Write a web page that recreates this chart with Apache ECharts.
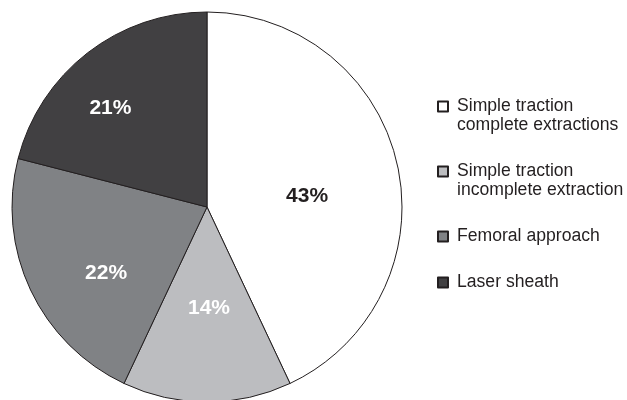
<!DOCTYPE html>
<html>
<head>
<meta charset="utf-8">
<script src="https://cdn.jsdelivr.net/npm/echarts@6/dist/echarts.min.js"></script>
<style>
  html, body { margin: 0; padding: 0; background: #fff; }
  #chart { width: 627px; height: 400px; }
</style>
</head>
<body>
<div id="chart"></div>
<script>
const categories = [
  'Simple traction\ncomplete extractions',
  'Simple traction\nincomplete extraction',
  'Femoral approach',
  'Laser sheath'
];
const percents = [43, 14, 22, 21];

const sliceColors = ['#ffffff', '#bcbdc0', '#808285', '#414042'];
const labelColors = ['#231f20', '#ffffff', '#ffffff', '#ffffff'];
// nudges so the labels sit where the original put them
const labelOffsets = [[2, 11], [2, 1], [-10, 23], [-35, -19]];
// legend text padding, used to space the rows like the original
const legendPads = [[0, 0, 0, 4], [0, 0, 0, 4], [19, 0, 19, 4], [0, 0, 0, 4]];

const chart = echarts.init(document.getElementById('chart'));

const option = {
  animation: false,
  backgroundColor: '#fff',
  legend: {
    orient: 'vertical',
    left: 437,
    top: 78,
    padding: 0,
    itemWidth: 10,
    itemHeight: 10,
    itemGap: 8,
    icon: 'rect',
    selectedMode: false,
    // leading blank line keeps the icon level with the first text line
    formatter: name => (name.indexOf('\n') >= 0 ? '\n' + name : name),
    textStyle: {
      fontFamily: 'Liberation Sans',
      fontSize: 17.6,
      lineHeight: 19,
      color: '#231f20'
    },
    data: categories.map((name, i) => ({
      name: name,
      textStyle: { padding: legendPads[i] }
    }))
  },
  series: [
    {
      type: 'pie',
      center: [207, 207],
      radius: 195,
      startAngle: 90,
      clockwise: true,
      silent: true,
      itemStyle: {
        borderColor: '#231f20',
        borderWidth: 1
      },
      label: {
        show: true,
        position: 'inside',
        formatter: '{c}%',
        fontFamily: 'Liberation Sans',
        fontWeight: 'bold',
        fontSize: 21
      },
      labelLine: { show: false },
      data: categories.map((name, i) => ({
        name: name,
        value: percents[i],
        itemStyle: { color: sliceColors[i] },
        label: { color: labelColors[i], offset: labelOffsets[i] }
      }))
    }
  ]
};

option && chart.setOption(option);
</script>
</body>
</html>
